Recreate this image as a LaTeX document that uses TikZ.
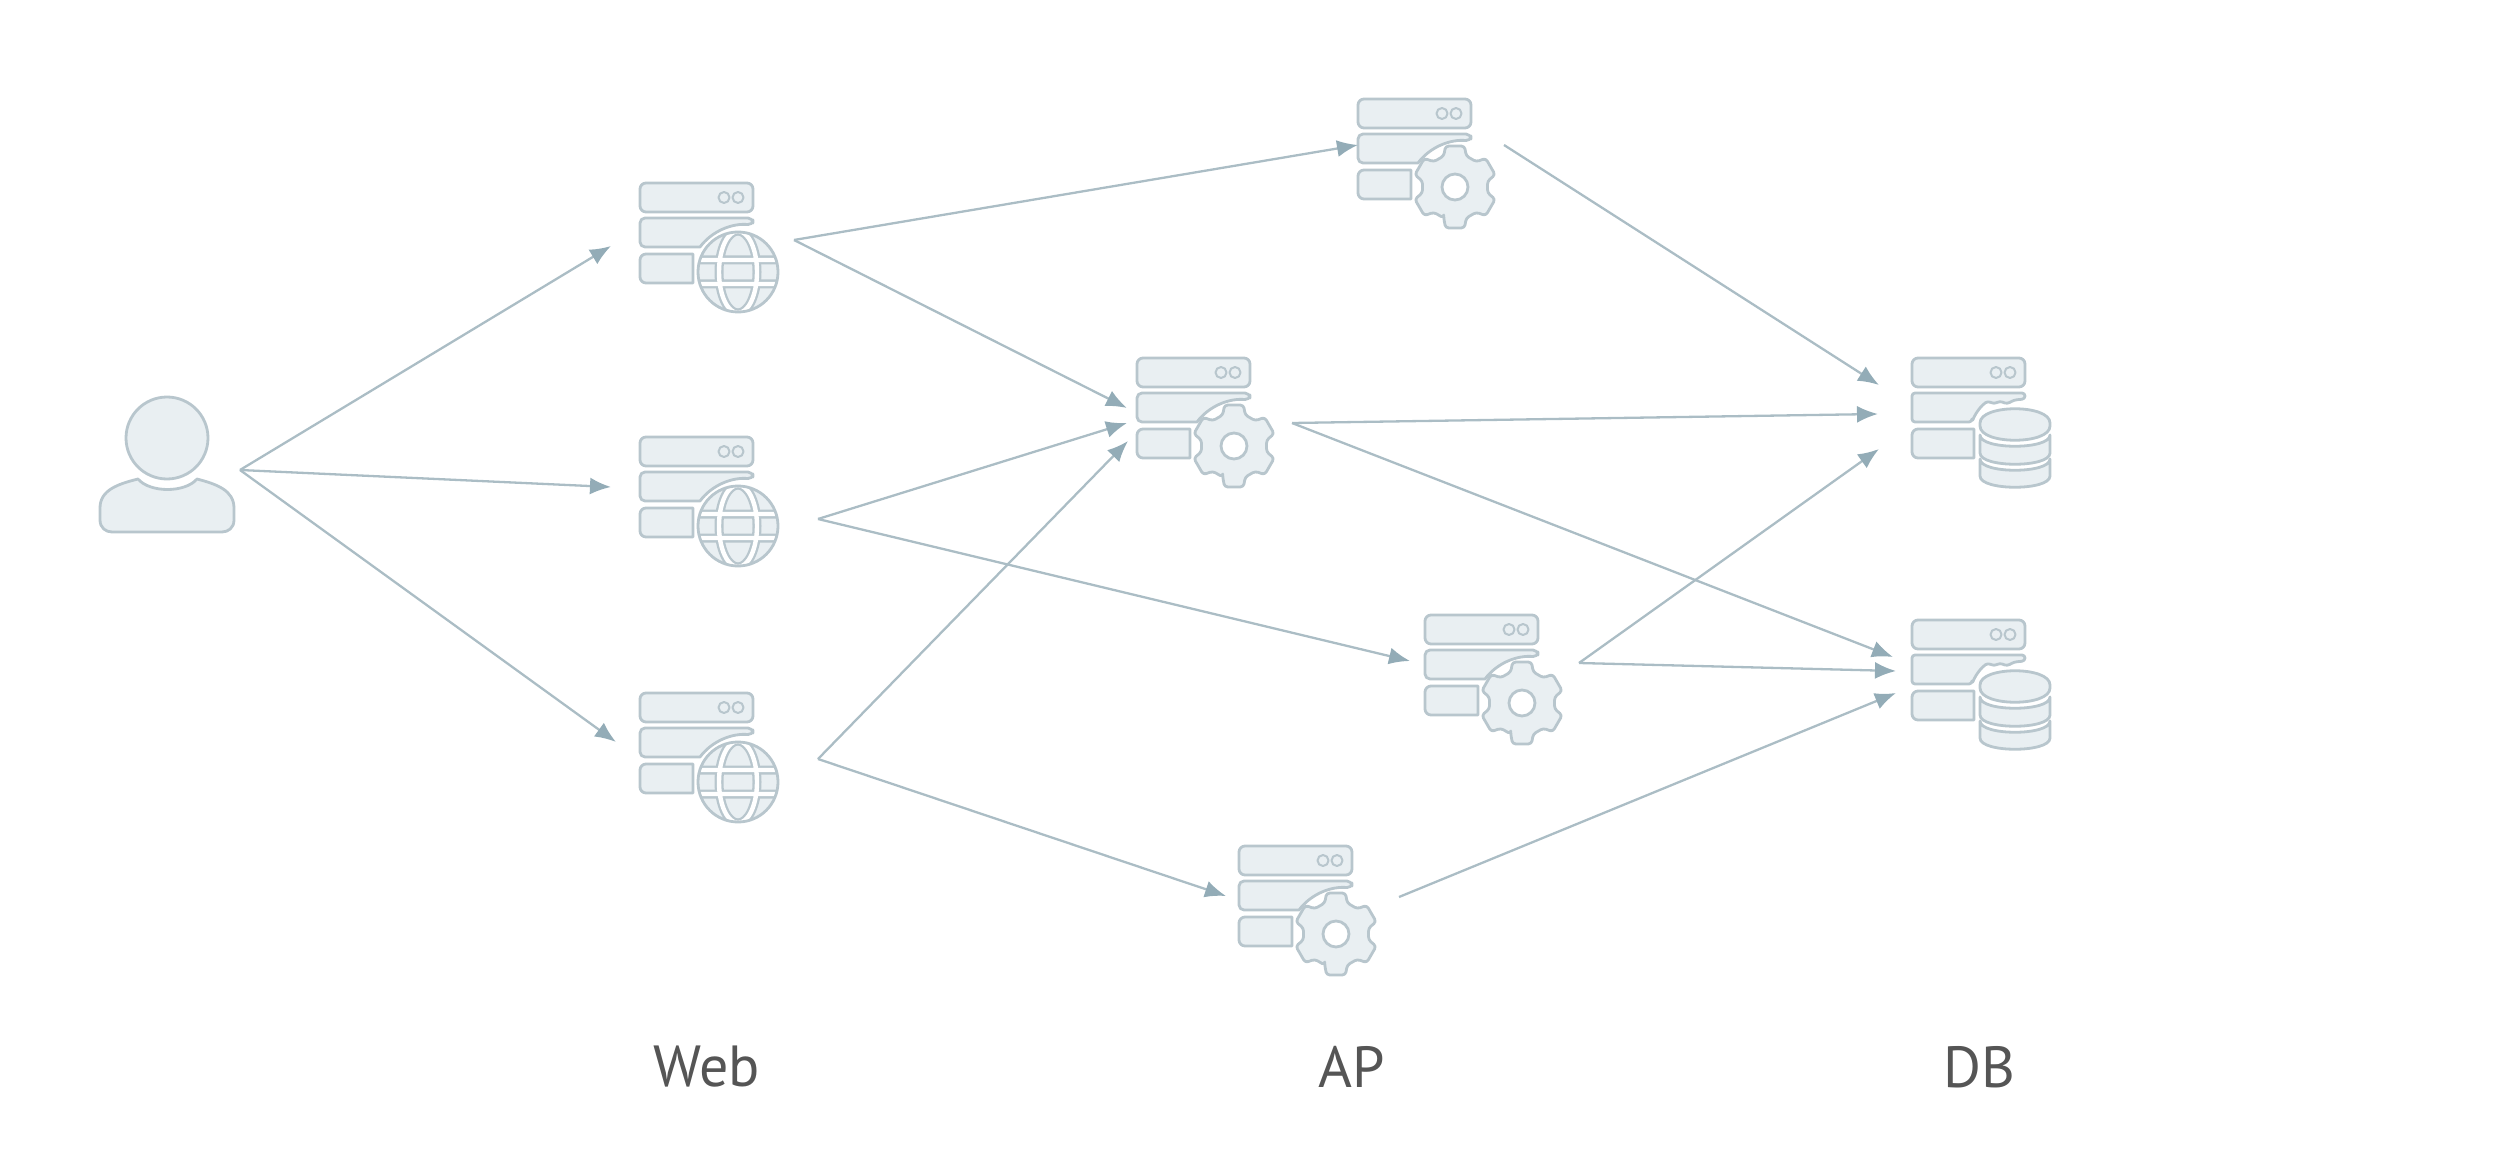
\documentclass[tikz,border=0pt]{standalone}
\usepackage{fontspec}
\setmainfont{PT Sans}
\usetikzlibrary{arrows.meta}
\definecolor{iconfill}{HTML}{E9EFF2}
\definecolor{iconline}{HTML}{B8C6CD}
\definecolor{wire}{HTML}{ABBDC5}
\definecolor{tip}{HTML}{93ACB7}
\definecolor{labeltext}{HTML}{555555}
\tikzset{
  x=1pt,y=-1pt,
  icon/.style={fill=iconfill,draw=iconline,line width=2.8pt,line join=round},
  port/.style={inner sep=0pt,minimum size=0pt,outer sep=0pt},
  wirearrow/.style={draw=wire,line width=2.3pt,-{Latex[length=21pt,width=17pt,fill=tip,color=tip]}},
  tierlabel/.style={font=\fontsize{58}{64}\selectfont,text=labeltext,inner sep=0pt},
  pics/rack/.style={code={
    \draw[icon,rounded corners=6pt] (0,0) rectangle (113,29);
    \draw[icon,line width=2pt] (84,14.5) circle (5.5) (98,14.5) circle (5.5);
    \draw[icon] (#1,71) -- (6,71) arc (-90:-180:6) -- (0,94) arc (180:90:6) -- (#1,100) -- cycle;
  }},
  rowtwo/.style={icon,rounded corners=5pt},
  pics/globeicon/.style={code={
    \pic {rack=53};
    \draw[rowtwo] (60,64) -- (0,64) -- (0,35) -- (113,35) -- (113,42) [sharp corners] .. controls (92,40) and (72,48) .. (60,64) -- cycle;
    \fill[iconfill] (98,89) circle (40);
    \begin{scope}
      \clip (98,89) circle (40);
      \draw[iconline,line width=9pt] (98,89) ellipse (19 and 41) (50,77) -- (146,77) (50,101) -- (146,101);
      \draw[white,line width=4.4pt] (98,89) ellipse (19 and 41) (50,77) -- (146,77) (50,101) -- (146,101);
    \end{scope}
    \draw[iconline,line width=2.8pt] (98,89) circle (40);
  }},
  pics/gearicon/.style={code={
    \pic {rack=53};
    \draw[rowtwo] (60,64) -- (0,64) -- (0,35) -- (113,35) -- (113,42) [sharp corners] .. controls (92,40) and (72,48) .. (60,64) -- cycle;
    \draw[icon,rounded corners=3pt,shift={(97,88)}] (110:33)
      \foreach \a in {90,30,-30,-90,-150,-210} { -- (\a+20:33) -- (\a+13:42) -- (\a-13:42) -- (\a-20:33) } -- cycle;
    \draw[icon,fill=white] (97,88) circle (13);
  }},
  pics/dbicon/.style={code={
    \pic {rack=62};
    \draw[icon,rounded corners=3pt] (60,64) -- (0,64) -- (0,35) -- (113,35) -- (113,41) -- (102,42) -- (95,46) -- (88,43) -- (82,46) -- (76,43) .. controls (70,47) and (64,54) .. (60,64) -- cycle;
    \draw[icon] (68,101) .. controls (68,116) and (138,116) .. (138,101) -- (138,118) .. controls (138,133) and (68,133) .. (68,118) -- cycle;
    \draw[icon] (68,77) .. controls (68,92) and (138,92) .. (138,77) -- (138,95) .. controls (138,110) and (68,110) .. (68,95) -- cycle;
    \draw[icon] (68,65) .. controls (68,46) and (138,46) .. (138,65) -- (138,68) .. controls (138,87) and (68,87) .. (68,68) -- cycle;
  }},
}
\begin{document}
\begin{tikzpicture}
\useasboundingbox (0,0) rectangle (2504,1166);
% user
\draw[icon] (167,438) circle (41);
\draw[icon] (100,508) .. controls (100,490) and (118,484) .. (138,479) .. controls (150,493) and (185,493) .. (197,479) .. controls (216,484) and (234,490) .. (234,508) -- (234,520) .. controls (234,528) and (228,532) .. (222,532) -- (112,532) .. controls (106,532) and (100,528) .. (100,520) -- cycle;
% icons
\pic at (640,183) {globeicon};
\pic at (640,437) {globeicon};
\pic at (640,693) {globeicon};
\pic at (1358,99) {gearicon};
\pic at (1137,358) {gearicon};
\pic at (1425,615) {gearicon};
\pic at (1239,846) {gearicon};
\pic at (1912,358) {dbicon};
\pic at (1912,620) {dbicon};
% ports
\node[port] (userout) at (240,470) {};
\node[port] (webAin) at (611,246) {};
\node[port] (webBin) at (611,487) {};
\node[port] (webCin) at (616,742) {};
\node[port] (webAout) at (794,240) {};
\node[port] (webBout) at (818,519) {};
\node[port] (webCout) at (818,759) {};
\node[port] (apAin) at (1358,145) {};
\node[port] (apBinA) at (1127,408) {};
\node[port] (apBinB) at (1127,423) {};
\node[port] (apBinC) at (1128,441) {};
\node[port] (apCin) at (1410,661) {};
\node[port] (apDin) at (1226,896) {};
\node[port] (apAout) at (1504,145) {};
\node[port] (apBout) at (1292,423) {};
\node[port] (apCout) at (1579,663) {};
\node[port] (apDout) at (1399,897) {};
\node[port] (dbAinA) at (1879,385) {};
\node[port] (dbAinB) at (1878,414) {};
\node[port] (dbAinC) at (1879,449) {};
\node[port] (dbBinA) at (1893,657) {};
\node[port] (dbBinB) at (1896,671) {};
\node[port] (dbBinC) at (1896,693) {};
% connectors
\draw[wirearrow] (userout) -- (webAin);
\draw[wirearrow] (userout) -- (webBin);
\draw[wirearrow] (userout) -- (webCin);
\draw[wirearrow] (webAout) -- (apAin);
\draw[wirearrow] (webAout) -- (apBinA);
\draw[wirearrow] (webBout) -- (apBinB);
\draw[wirearrow] (webBout) -- (apCin);
\draw[wirearrow] (webCout) -- (apBinC);
\draw[wirearrow] (webCout) -- (apDin);
\draw[wirearrow] (apAout) -- (dbAinA);
\draw[wirearrow] (apBout) -- (dbAinB);
\draw[wirearrow] (apBout) -- (dbBinA);
\draw[wirearrow] (apCout) -- (dbAinC);
\draw[wirearrow] (apCout) -- (dbBinB);
\draw[wirearrow] (apDout) -- (dbBinC);
% labels
\node[tierlabel] (lweb) at (707,1067) {Web};
\node[tierlabel] (lap) at (1352,1067) {AP};
\node[tierlabel] (ldb) at (1979,1067) {DB};
\end{tikzpicture}
\end{document}
